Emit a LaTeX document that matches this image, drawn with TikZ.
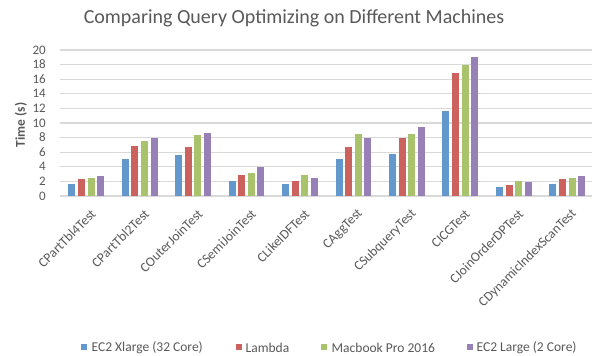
\documentclass[tikz,border=0pt]{standalone}
\usepackage{fontspec}
\setmainfont{Carlito}
\definecolor{cblue}{HTML}{6298CB}
\definecolor{cred}{HTML}{CC625E}
\definecolor{cgreen}{HTML}{A8C36C}
\definecolor{cpurple}{HTML}{9680B6}
\definecolor{txt}{HTML}{595959}
\definecolor{grid}{HTML}{D9D9D9}
\tikzset{
  gridline/.style={draw=grid, line width=1.3pt},
  ticklbl/.style={text=txt, font=\fontsize{13}{14}\selectfont, anchor=east, inner sep=0pt},
  catlbl/.style={text=txt, font=\fontsize{13.5}{14}\selectfont, rotate=45, anchor=east, inner sep=1pt},
  leglbl/.style={text=txt, font=\fontsize{13.5}{14}\selectfont, anchor=west, inner sep=0pt},
  legbox/.style={minimum size=6pt, inner sep=0pt},
}
\begin{document}
\begin{tikzpicture}[x=1pt,y=1pt]
\useasboundingbox (0,0) rectangle (592,356);
\fill[white] (0,0) rectangle (592,356);
% title
\node[text=txt, font=\fontsize{20}{22}\selectfont] (title) at (294,338) {Comparing Query Optimizing on Different Machines};
% grid
\foreach \v in {0,2,...,20} {
  \draw[gridline] (59.5,160+7.3*\v) -- (592,160+7.3*\v);
  \node[ticklbl] (t\v) at (46,160+7.3*\v) {\v};
}
\node[text=txt, font=\bfseries\fontsize{13.5}{14}\selectfont, rotate=90] (ylab) at (21,231) {Time (s)};
% bars
\foreach \i/\a/\b/\c/\d/\name in {
 0/1.7/2.3/2.5/2.75/CPartTbl4Test,
 1/5.0/6.85/7.5/7.95/CPartTbl2Test,
 2/5.65/6.7/8.35/8.6/COuterJoinTest,
 3/2.05/2.9/3.1/3.95/CSemiJoinTest,
 4/1.65/2.05/2.9/2.45/CLikeIDFTest,
 5/5.0/6.7/8.55/7.95/CAggTest,
 6/5.8/7.95/8.55/9.4/CSubqueryTest,
 7/11.7/16.9/17.9/19.0/CICGTest,
 8/1.25/1.45/2.05/1.85/CJoinOrderDPTest,
 9/1.65/2.3/2.5/2.7/CDynamicIndexScanTest} {
  \pgfmathsetmacro{\cx}{86.2+53.45*\i}
  \fill[cblue] (\cx-17.9,160) rectangle (\cx-10.9,160+7.3*\a);
  \fill[cred] (\cx-8.3,160) rectangle (\cx-1.3,160+7.3*\b);
  \fill[cgreen] (\cx+1.3,160) rectangle (\cx+8.3,160+7.3*\c);
  \fill[cpurple] (\cx+10.9,160) rectangle (\cx+17.9,160+7.3*\d);
  \node[catlbl] (c\i) at (\cx+8,145) {\name};
}
% legend
\node[legbox, fill=cblue] (l1) at (84,9) {};
\node[leglbl] (l1t) at (91.5,8) {EC2 Xlarge (32 Core)};
\node[legbox, fill=cred] (l2) at (238.5,9) {};
\node[leglbl] (l2t) at (245.5,8) {Lambda};
\node[legbox, fill=cgreen] (l3) at (324,9) {};
\node[leglbl] (l3t) at (331.5,8) {Macbook Pro 2016};
\node[legbox, fill=cpurple] (l4) at (470,9) {};
\node[leglbl] (l4t) at (476.5,8) {EC2 Large (2 Core)};
\end{tikzpicture}
\end{document}
